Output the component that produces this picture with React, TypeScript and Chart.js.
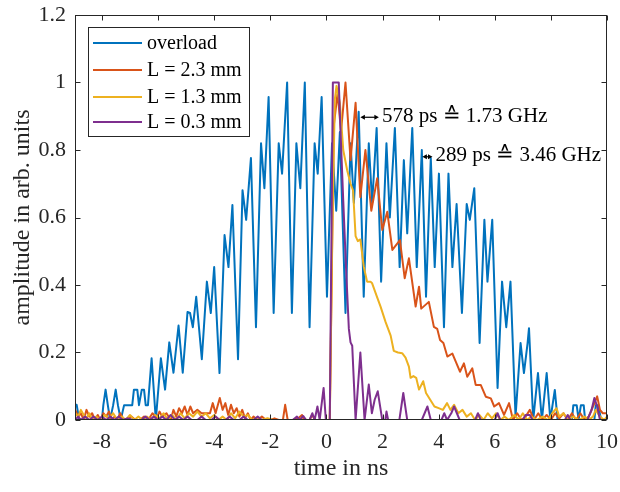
import { useEffect, useRef } from "react";
import { Chart, registerables } from "chart.js";

Chart.register(...registerables);

// ---------- data (time in ns, amplitude in arb. units) ----------
const overloadT = [
  -8.95, -8.9, -8.82, -8.7, -8.2, -8.0, -7.95, -7.87, -7.79, -7.71, -7.6, -7.51, -7.43, -7.33, -7.21, -6.92,
  -6.86, -6.74, -6.68, -6.58, -6.5, -6.44, -6.36, -6.23, -6.08, -5.9, -5.75, -5.6, -5.45, -5.27, -5.12, -4.95,
  -4.86, -4.76, -4.64, -4.44, -4.26, -4.12, -4.0, -3.81, -3.63, -3.49, -3.35, -3.15, -2.99, -2.86, -2.69, -2.51,
  -2.33, -2.21, -2.06, -1.88, -1.7, -1.58, -1.4, -1.23, -1.07, -0.93, -0.77, -0.6, -0.42, -0.31, -0.17, 0.02,
  0.2, 0.35, 0.48, 0.68, 0.86, 0.98, 1.15, 1.33, 1.51, 1.63, 1.79, 1.95, 2.14, 2.26, 2.44, 2.61,
  2.76, 2.88, 3.06, 3.22, 3.4, 3.55, 3.72, 3.86, 4.01, 4.19, 4.35, 4.49, 4.64, 4.83, 5.0, 5.11,
  5.27, 5.46, 5.63, 5.74, 5.91, 6.1, 6.26, 6.41, 6.56, 6.74, 6.92, 7.04, 7.17, 7.22, 7.37, 7.54,
  7.68, 7.85, 7.98, 8.14, 8.24, 8.75, 8.8, 8.92, 8.99, 9.07, 9.17, 9.22, 9.55, 9.6, 9.69, 9.79, 10.0,
];
const overloadA = [
  0.045, 0.045, 0.005, 0.0, 0.0, 0.0, 0.044, 0.09, 0.044, 0.0, 0.044, 0.09, 0.044, 0.0, 0.044, 0.044,
  0.09, 0.09, 0.044, 0.09, 0.09, 0.044, 0.044, 0.183, 0.0, 0.183, 0.09, 0.23, 0.14, 0.28, 0.14, 0.32,
  0.317, 0.275, 0.365, 0.18, 0.41, 0.317, 0.453, 0.139, 0.548, 0.453, 0.637, 0.18, 0.681, 0.593, 0.776, 0.275,
  0.82, 0.687, 0.957, 0.317, 0.82, 0.73, 1.0, 0.317, 0.82, 0.687, 1.0, 0.275, 0.82, 0.73, 0.957, 0.365,
  0.82, 0.62, 0.853, 0.317, 0.82, 0.643, 0.913, 0.365, 0.82, 0.643, 0.865, 0.41, 0.82, 0.6, 0.865, 0.453,
  0.77, 0.553, 0.865, 0.453, 0.8, 0.365, 0.776, 0.453, 0.73, 0.275, 0.73, 0.453, 0.64, 0.317, 0.64, 0.593,
  0.687, 0.228, 0.593, 0.41, 0.593, 0.095, 0.41, 0.275, 0.41, 0.01, 0.228, 0.139, 0.228, 0.272, 0.0, 0.139,
  0.0, 0.139, 0.0, 0.089, 0.0, 0.0, 0.044, 0.044, 0.0, 0.044, 0.044, 0.0, 0.0, 0.044, 0.044, 0.0, 0.0,
];

const l23T = [
  -8.95, -8.85, -8.75, -8.65, -8.55, -8.45, -8.35, -8.25, -8.15, -8.05, -7.95, -7.85, -7.75, -7.65, -7.55, -7.45,
  -7.35, -7.25, -7.1, -6.95, -6.8, -6.65, -6.5, -6.35, -6.2, -6.05, -5.95, -5.85, -5.7, -5.55, -5.45, -5.35,
  -5.25, -5.15, -5.05, -4.95, -4.85, -4.75, -4.6, -4.45, -4.3, -4.15, -4.05, -3.95, -3.8, -3.7, -3.6, -3.5,
  -3.4, -3.3, -3.2, -3.1, -3.0, -2.9, -2.8, -2.7, -2.6, -2.45, -2.3, -2.15, -2.0, -1.85, -1.7, -1.55,
  -1.47, -1.38, -1.2, -1.0, -0.87, -0.8, -0.6, -0.51, -0.4, -0.2, 0.12, 0.26, 0.4, 0.52, 0.68, 0.86,
  1.04, 1.21, 1.39, 1.6, 1.81, 1.99, 2.17, 2.35, 2.62, 2.79, 2.94, 3.18, 3.3, 3.38, 3.65, 3.83,
  3.95, 4.05, 4.17, 4.31, 4.49, 4.61, 4.76, 4.9, 5.02, 5.2, 5.32, 5.5, 5.68, 5.86, 5.98, 6.15,
  6.33, 6.51, 6.65, 6.8, 6.95, 7.1, 7.25, 7.4, 7.55, 7.7, 7.85, 8.0, 8.15, 8.3, 8.45, 8.6,
  8.75, 8.9, 9.05, 9.2, 9.35, 9.5, 9.65, 9.75, 9.85, 10.0,
];
const l23A = [
  0.03, 0.01, 0.02, 0.0, 0.03, 0.01, 0.02, 0.0, 0.015, 0.0, 0.02, 0.01, 0.025, 0.0, 0.01, 0.0,
  0.02, 0.005, 0.0, 0.01, 0.0, 0.0, 0.01, 0.0, 0.02, 0.005, 0.025, 0.01, 0.02, 0.0, 0.03, 0.01,
  0.035, 0.02, 0.04, 0.015, 0.04, 0.02, 0.03, 0.02, 0.02, 0.02, 0.05, 0.02, 0.065, 0.03, 0.05, 0.015,
  0.045, 0.02, 0.035, 0.01, 0.03, 0.005, 0.02, 0.0, 0.01, 0.0, 0.01, 0.0, 0.0, 0.005, 0.0, 0.0,
  0.045, 0.0, 0.0, 0.005, 0.015, 0.0, 0.0, 0.015, 0.0, 0.0, 0.0, 0.87, 0.97, 0.854, 1.0, 0.77,
  0.94, 0.66, 0.8, 0.62, 0.716, 0.563, 0.617, 0.504, 0.533, 0.42, 0.479, 0.336, 0.395, 0.33, 0.35, 0.276,
  0.27, 0.237, 0.228, 0.188, 0.197, 0.173, 0.143, 0.168, 0.128, 0.153, 0.104, 0.104, 0.069, 0.064, 0.04, 0.05,
  0.015, 0.05, 0.0, 0.02, 0.0, 0.01, 0.03, 0.0, 0.02, 0.0, 0.015, 0.0, 0.02, 0.005, 0.02, 0.0,
  0.02, 0.0, 0.02, 0.0, 0.01, 0.04, 0.07, 0.03, 0.02, 0.02,
];

const l13T = [
  -8.95, -8.85, -8.75, -8.65, -8.55, -8.45, -8.35, -8.2, -8.05, -7.9, -7.75, -7.6, -7.45, -7.3, -7.15, -7.0,
  -6.85, -6.7, -6.55, -6.4, -6.25, -6.1, -5.95, -5.8, -5.65, -5.5, -5.35, -5.2, -5.05, -4.9, -4.75, -4.6,
  -4.45, -4.3, -4.15, -4.0, -3.85, -3.7, -3.55, -3.4, -3.25, -3.1, -2.95, -2.8, -2.65, -2.5, -2.3, -2.1,
  -1.9, -1.6, -1.3, -1.0, -0.7, -0.4, -0.1, 0.12, 0.22, 0.3, 0.36, 0.48, 0.6, 0.74,
  0.86, 0.95, 1.04, 1.12, 1.21, 1.33, 1.45, 1.57, 1.63, 1.78, 1.93, 2.11, 2.29, 2.4, 2.55, 2.7,
  2.82, 2.94, 3.0, 3.1, 3.2, 3.3, 3.45, 3.55, 3.7, 3.85, 4.0, 4.15, 4.3, 4.42, 4.55, 4.7,
  4.85, 5.0, 5.15, 5.3, 5.45, 5.6, 5.75, 5.9, 6.05, 6.2, 6.35, 6.5, 6.7, 6.85, 7.0, 7.15,
  7.3, 7.5, 7.7, 7.9, 8.05, 8.2, 8.3, 8.45, 8.6, 8.8, 9.0, 9.2, 9.35, 9.5, 9.6, 9.75,
  9.9, 10.0,
];
const l13A = [
  0.02, 0.01, 0.03, 0.015, 0.005, 0.02, 0.0, 0.01, 0.0, 0.015, 0.005, 0.02, 0.0, 0.01, 0.0, 0.015,
  0.0, 0.01, 0.0, 0.01, 0.0, 0.015, 0.005, 0.02, 0.0, 0.015, 0.0, 0.02, 0.005, 0.02, 0.01, 0.025,
  0.01, 0.02, 0.005, 0.015, 0.0, 0.01, 0.0, 0.02, 0.005, 0.025, 0.01, 0.015, 0.0, 0.005, 0.0, 0.005,
  0.0, 0.0, 0.0, 0.0, 0.0, 0.0, 0.0, 0.0, 0.6, 0.95, 0.99, 0.94, 0.8, 0.74,
  0.7, 0.68, 0.545, 0.53, 0.535, 0.455, 0.41, 0.41, 0.405, 0.37, 0.336, 0.29, 0.25, 0.205, 0.2, 0.198,
  0.185, 0.158, 0.125, 0.13, 0.125, 0.09, 0.115, 0.08, 0.06, 0.04, 0.035, 0.03, 0.05, 0.03, 0.045, 0.02,
  0.03, 0.01, 0.02, 0.0, 0.015, 0.0, 0.02, 0.005, 0.02, 0.0, 0.01, 0.0, 0.015, 0.0, 0.02, 0.0,
  0.01, 0.0, 0.01, 0.0, 0.02, 0.035, 0.01, 0.02, 0.0, 0.01, 0.0, 0.01, 0.0, 0.01, 0.03, 0.01,
  0.0, 0.01,
];

const l03T = [
  -8.95, -8.85, -8.75, -8.6, -8.45, -8.3, -8.15, -8.0, -7.85, -7.7, -7.55, -7.4, -7.25, -7.1, -6.9, -6.6,
  -6.45, -6.3, -6.15, -6.0, -5.85, -5.7, -5.55, -5.4, -5.25, -5.1, -4.95, -4.8, -4.6, -4.45, -4.3, -4.1,
  -3.95, -3.8, -3.6, -3.45, -3.3, -3.1, -2.95, -2.8, -2.6, -2.45, -2.3, -2.0, -1.7, -1.4, -1.2, -1.05,
  -0.95, -0.83, -0.72, -0.6, -0.5, -0.42, -0.32, -0.24, -0.1, -0.02, 0.12, 0.23, 0.44, 0.52,
  0.6, 0.7, 0.8, 0.86, 0.92, 1.04, 1.21, 1.36, 1.51, 1.62, 1.72, 1.83, 1.99, 2.1, 2.14, 2.2,
  2.6, 2.74, 2.88, 3.4, 3.5, 3.6, 3.72, 4.1, 4.2, 4.3, 4.45, 4.55, 4.65, 4.75, 5.3, 5.4,
  5.5, 6.0, 6.1, 6.2, 7.0, 7.1, 7.25, 7.35, 8.5, 8.6, 8.7, 9.3, 9.45, 9.55, 9.65, 9.75,
  10.0,
];
const l03A = [
  0.0, 0.01, 0.0, 0.01, 0.0, 0.01, 0.0, 0.01, 0.0, 0.01, 0.0, 0.01, 0.0, 0.005, 0.0, 0.0,
  0.01, 0.0, 0.01, 0.0, 0.01, 0.0, 0.015, 0.0, 0.01, 0.0, 0.01, 0.0, 0.0, 0.01, 0.0, 0.0,
  0.01, 0.0, 0.0, 0.01, 0.0, 0.0, 0.01, 0.0, 0.0, 0.01, 0.0, 0.0, 0.0, 0.0, 0.0, 0.01,
  0.0, 0.012, 0.0, 0.0, 0.02, 0.0, 0.04, 0.0, 0.095, 0.0, 0.0, 1.0, 1.0, 0.82,
  0.65, 0.45, 0.27, 0.23, 0.22, 0.0, 0.2, 0.0, 0.105, 0.02, 0.06, 0.085, 0.0, 0.0, 0.025, 0.0,
  0.0, 0.08, 0.0, 0.0, 0.02, 0.04, 0.0, 0.0, 0.02, 0.0, 0.02, 0.04, 0.02, 0.0, 0.0, 0.02,
  0.0, 0.0, 0.02, 0.0, 0.0, 0.015, 0.015, 0.0, 0.0, 0.015, 0.0, 0.0, 0.03, 0.065, 0.04, 0.0,
  0.0,
];

const seriesLabels = ["overload", "L = 2.3 mm", "L = 1.3 mm", "L = 0.3 mm"];
const seriesColors = ["#0072BD", "#D95319", "#EDB120", "#7E2F8E"];
const xTickValues = [-8, -6, -4, -2, 0, 2, 4, 6, 8, 10];
const yTickValues = [0, 0.2, 0.4, 0.6, 0.8, 1, 1.2];
const xLimits = [-8.96, 10];
const yLimits = [0, 1.2];
const annotationTexts = ["578 ps \u2259 1.73 GHz", "289 ps \u2259 3.46 GHz"];
const annotationX0 = [1.21, 3.42];
const annotationX1 = [1.87, 3.78];
const annotationY = [0.897, 0.78];

const SERIF = "'Liberation Serif', 'Times New Roman', 'DejaVu Serif', serif";
const AXIS_COLOR = "#262626";

function toPoints(t: number[], a: number[]) {
  return t.map((x, i) => ({ x, y: a[i] }));
}

function drawArrowHead(ctx: CanvasRenderingContext2D, x: number, y: number, dir: number) {
  ctx.beginPath();
  ctx.moveTo(x, y);
  ctx.lineTo(x - dir * 4.5, y - 2.5);
  ctx.lineTo(x - dir * 4.5, y + 2.5);
  ctx.closePath();
  ctx.fill();
}

const framePlugin = {
  id: "matlabFrame",
  afterDatasetsDraw(chart: any) {
    const { ctx, chartArea } = chart;
    const xs = chart.scales.x;
    const ys = chart.scales.y;
    const L = Math.round(chartArea.left) + 0.5;
    const R = Math.round(chartArea.right) - 0.5;
    const T = Math.round(chartArea.top) + 0.5;
    const B = Math.round(chartArea.bottom) - 0.5;
    ctx.save();
    ctx.strokeStyle = AXIS_COLOR;
    ctx.lineWidth = 1;
    ctx.strokeRect(L, T, R - L, B - T);
    ctx.beginPath();
    const tl = 5;
    xTickValues.forEach((v) => {
      const px = Math.round(xs.getPixelForValue(v)) + 0.5;
      ctx.moveTo(px, B);
      ctx.lineTo(px, B - tl);
      ctx.moveTo(px, T);
      ctx.lineTo(px, T + tl);
    });
    yTickValues.forEach((v) => {
      const py = Math.round(ys.getPixelForValue(v)) + 0.5;
      ctx.moveTo(L, py);
      ctx.lineTo(L + tl, py);
      ctx.moveTo(R, py);
      ctx.lineTo(R - tl, py);
    });
    ctx.stroke();

    // annotations
    ctx.fillStyle = "#000";
    ctx.strokeStyle = "#000";
    ctx.lineWidth = 1.2;
    ctx.font = `21px ${SERIF}`;
    ctx.textBaseline = "middle";
    ctx.textAlign = "left";
    annotationTexts.forEach((txt, i) => {
      const x0 = xs.getPixelForValue(annotationX0[i]);
      const x1 = xs.getPixelForValue(annotationX1[i]);
      const y = ys.getPixelForValue(annotationY[i]);
      ctx.beginPath();
      ctx.moveTo(x0 + 3, y);
      ctx.lineTo(x1 - 3, y);
      ctx.stroke();
      drawArrowHead(ctx, x0, y, -1);
      drawArrowHead(ctx, x1, y, 1);
      ctx.fillText(txt, x1 + 3, y - 1);
    });

    // legend
    const lx = 88.5, ly = 27.5, lw = 161, lh = 109;
    ctx.fillStyle = "#fff";
    ctx.fillRect(lx, ly, lw, lh);
    ctx.strokeStyle = AXIS_COLOR;
    ctx.lineWidth = 1;
    ctx.strokeRect(lx, ly, lw, lh);
    const rows = [43, 70, 97, 122];
    ctx.font = `20px ${SERIF}`;
    seriesLabels.forEach((lab, i) => {
      ctx.strokeStyle = seriesColors[i];
      ctx.lineWidth = 2;
      ctx.beginPath();
      ctx.moveTo(93, rows[i]);
      ctx.lineTo(142, rows[i]);
      ctx.stroke();
      ctx.fillStyle = "#000";
      ctx.fillText(lab, 147, rows[i] + 1);
    });
    ctx.restore();
  },
};

export default function App() {
  const ref = useRef<HTMLCanvasElement | null>(null);
  useEffect(() => {
    if (!ref.current) return;
    const allT = [overloadT, l23T, l13T, l03T];
    const allA = [overloadA, l23A, l13A, l03A];
    const chart = new Chart(ref.current, {
      type: "line",
      data: {
        datasets: seriesLabels.map((label, i) => ({
          label,
          data: toPoints(allT[i], allA[i]),
          borderColor: seriesColors[i],
          backgroundColor: seriesColors[i],
          borderWidth: 2,
          pointRadius: 0,
          tension: 0,
          borderJoinStyle: "round",
          fill: false,
          order: 4 - i,
        })),
      },
      options: {
        animation: false,
        responsive: false,
        devicePixelRatio: 1,
        layout: { padding: { left: 0, top: 15, right: 13, bottom: 0 } },
        plugins: { legend: { display: false }, tooltip: { enabled: false } },
        scales: {
          x: {
            type: "linear",
            min: xLimits[0],
            max: xLimits[1],
            afterBuildTicks: (s: any) => {
              s.ticks = xTickValues.map((v) => ({ value: v }));
            },
            afterFit: (s: any) => {
              s.height = 72;
              s.paddingLeft = 0;
              s.paddingRight = 0;
            },
            grid: { display: false, drawTicks: false },
            border: { display: false },
            ticks: {
              padding: 9,
              color: AXIS_COLOR,
              font: { family: SERIF, size: 22 },
              maxRotation: 0,
              autoSkip: false,
              callback: (v: any) => String(v),
            },
            title: {
              display: true,
              text: "time in ns",
              color: AXIS_COLOR,
              font: { family: SERIF, size: 24 },
              padding: { top: 0, bottom: 9 },
            },
          },
          y: {
            type: "linear",
            min: yLimits[0],
            max: yLimits[1],
            afterBuildTicks: (s: any) => {
              s.ticks = yTickValues.map((v) => ({ value: v }));
            },
            afterFit: (s: any) => {
              s.width = 75;
              s.paddingTop = 0;
              s.paddingBottom = 0;
            },
            grid: { display: false, drawTicks: false },
            border: { display: false },
            ticks: {
              padding: 9,
              color: AXIS_COLOR,
              font: { family: SERIF, size: 22 },
              autoSkip: false,
              callback: (v: any) => String(v),
            },
            title: {
              display: true,
              text: "amplitude in arb. units",
              color: AXIS_COLOR,
              font: { family: SERIF, size: 24 },
              padding: { top: 8, bottom: 0 },
            },
          },
        },
      },
      plugins: [framePlugin],
    } as any);
    return () => chart.destroy();
  }, []);
  return (
    <div style={{ position: "absolute", left: 0, top: 0, width: 620, height: 492, background: "#fff" }}>
      <canvas ref={ref} width={620} height={492} style={{ display: "block" }} />
    </div>
  );
}
